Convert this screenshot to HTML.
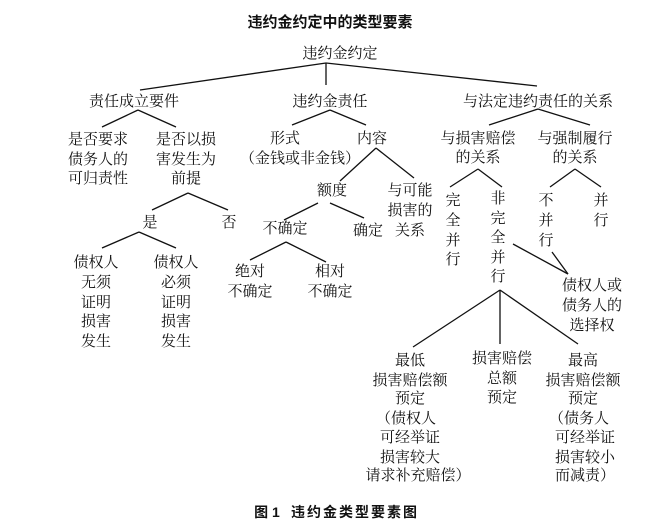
<!DOCTYPE html>
<html><head><meta charset="utf-8"><style>
html,body{margin:0;padding:0;background:#fff;}
svg{display:block;}
text{font-family:"Liberation Serif","Noto Serif CJK SC","Noto Sans CJK SC",serif;font-size:15px;fill:#111;text-anchor:middle;}
.b{font-family:"Liberation Sans","Noto Sans CJK SC",sans-serif;font-weight:bold;}
line{stroke:#111;stroke-width:1.3;}
</style></head><body>
<svg width="671" height="528" viewBox="0 0 671 528">
<text x="330" y="27" class="b" style="font-size:15px">违约金约定中的类型要素</text>
<text x="340" y="58">违约金约定</text>
<line x1="326" y1="63" x2="326" y2="85"/>
<line x1="326" y1="63" x2="140" y2="90"/>
<line x1="326" y1="63" x2="537" y2="86"/>
<text x="134" y="106">责任成立要件</text>
<text x="330" y="106">违约金责任</text>
<text x="538" y="106">与法定违约责任的关系</text>
<line x1="138" y1="110" x2="102" y2="127"/><line x1="138" y1="110" x2="176" y2="127"/>
<text x="98" y="144">是否要求</text><text x="98" y="164">债务人的</text><text x="98" y="183">可归责性</text>
<text x="186" y="144">是否以损</text><text x="186" y="164">害发生为</text><text x="186" y="183">前提</text>
<line x1="188" y1="193" x2="152" y2="210"/><line x1="188" y1="193" x2="228" y2="210"/>
<text x="150" y="227">是</text><text x="229" y="227">否</text>
<line x1="139" y1="232" x2="102" y2="248"/><line x1="139" y1="232" x2="176" y2="248"/>
<text x="96" y="267">债权人</text><text x="96" y="287">无须</text><text x="96" y="307">证明</text><text x="96" y="326">损害</text><text x="96" y="346">发生</text>
<text x="176" y="267">债权人</text><text x="176" y="287">必须</text><text x="176" y="307">证明</text><text x="176" y="326">损害</text><text x="176" y="346">发生</text>
<line x1="330" y1="110" x2="292" y2="125"/><line x1="330" y1="110" x2="366" y2="125"/>
<text x="285" y="143">形式</text><text x="300" y="163">（金钱或非金钱）</text>
<text x="372" y="143">内容</text>
<line x1="376" y1="148" x2="340" y2="181"/><line x1="376" y1="148" x2="414" y2="178"/>
<text x="332" y="195">额度</text>
<text x="410" y="195">与可能</text><text x="410" y="215">损害的</text><text x="410" y="235">关系</text>
<line x1="318" y1="203" x2="284" y2="220"/><line x1="330" y1="203" x2="364" y2="218"/>
<text x="285" y="233">不确定</text><text x="368" y="235">确定</text>
<line x1="286" y1="242" x2="250" y2="260"/><line x1="286" y1="242" x2="326" y2="262"/>
<text x="250" y="276">绝对</text><text x="250" y="296">不确定</text>
<text x="330" y="276">相对</text><text x="330" y="296">不确定</text>
<line x1="538" y1="109" x2="489" y2="125"/><line x1="538" y1="109" x2="590" y2="125"/>
<text x="478" y="143">与损害赔偿</text><text x="478" y="162">的关系</text>
<text x="575" y="143">与强制履行</text><text x="575" y="162">的关系</text>
<line x1="478" y1="169" x2="450" y2="187"/><line x1="478" y1="169" x2="502" y2="187"/>
<line x1="575" y1="169" x2="550" y2="187"/><line x1="575" y1="169" x2="601" y2="187"/>
<text x="453" y="205">完</text><text x="453" y="225">全</text><text x="453" y="245">并</text><text x="453" y="264">行</text>
<text x="498" y="203">非</text><text x="498" y="223">完</text><text x="498" y="242">全</text><text x="498" y="262">并</text><text x="498" y="281">行</text>
<text x="546" y="205">不</text><text x="546" y="225">并</text><text x="546" y="245">行</text>
<text x="601" y="205">并</text><text x="601" y="225">行</text>
<line x1="513" y1="244" x2="568" y2="274"/><line x1="552" y1="252" x2="568" y2="274"/>
<text x="592" y="290">债权人或</text><text x="592" y="310">债务人的</text><text x="592" y="330">选择权</text>
<line x1="500" y1="290" x2="413" y2="347"/><line x1="500" y1="290" x2="500" y2="344"/><line x1="500" y1="290" x2="578" y2="344"/>
<text x="410" y="365">最低</text><text x="410" y="385">损害赔偿额</text><text x="410" y="403">预定</text><text x="406" y="423">（债权人</text><text x="410" y="442">可经举证</text><text x="410" y="462">损害较大</text><text x="418" y="480">请求补充赔偿）</text>
<text x="502" y="363">损害赔偿</text><text x="502" y="383">总额</text><text x="502" y="402">预定</text>
<text x="583" y="365">最高</text><text x="583" y="385">损害赔偿额</text><text x="583" y="403">预定</text><text x="579" y="423">（债务人</text><text x="585" y="442">可经举证</text><text x="585" y="462">损害较小</text><text x="585" y="480">而减责）</text>
<text x="267" y="517" class="b" style="font-size:14px">图 1</text>
<text x="355" y="517" class="b" style="font-size:14px;letter-spacing:2px">违约金类型要素图</text>
</svg>
</body></html>
